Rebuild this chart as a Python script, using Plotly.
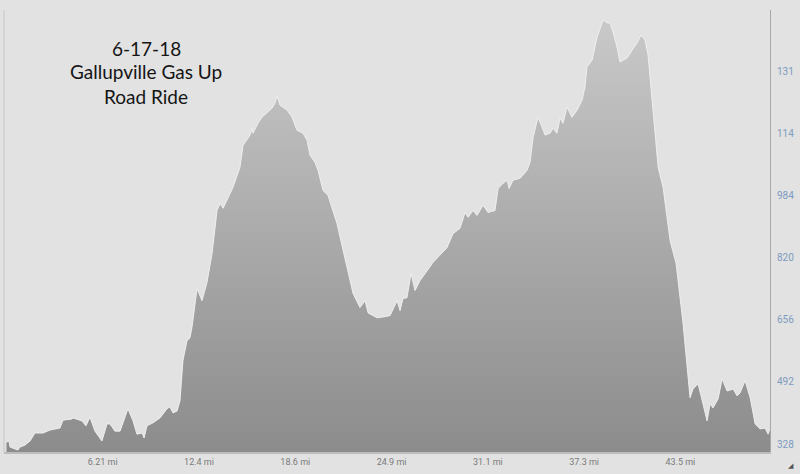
import plotly.graph_objects as go

distance_mi = [
    0.00, 0.16, 0.23, 0.48, 0.74, 0.87, 1.19, 1.52, 1.84, 2.36, 2.81, 3.45, 3.65, 4.23, 4.29,
    4.87, 5.13, 5.39, 5.71, 6.16, 6.49, 6.68, 7.00, 7.33, 7.58, 7.84, 8.17, 8.42, 8.75, 8.88,
    9.07, 9.46, 9.91, 10.36, 10.55, 10.75, 11.01, 11.20, 11.39, 11.65, 11.84, 11.97, 12.30, 12.62,
    12.94, 13.27, 13.59, 13.78, 13.98, 14.62, 15.07, 15.27, 15.72, 15.85, 15.91, 16.23, 16.49,
    16.82, 17.14, 17.33, 17.46, 17.65, 18.11, 18.43, 18.75, 19.14, 19.40, 19.59, 19.91, 20.11,
    20.43, 20.75, 21.01, 21.33, 21.85, 22.37, 22.82, 23.14,
    23.34, 23.92, 24.43, 24.76, 25.21, 25.40, 25.59, 25.85, 26.11, 26.37, 26.69, 27.53, 28.43,
    28.82, 29.27, 29.60, 29.79, 30.11, 30.37, 30.76, 31.08, 31.53, 31.73, 32.05, 32.31, 32.44,
    32.69, 33.15, 33.60, 33.79, 33.99, 34.31, 34.57, 34.76, 35.08, 35.28, 35.53, 35.73, 35.92,
    36.18, 36.50, 36.83, 37.15, 37.34, 37.47, 37.80, 38.12, 38.44, 38.51, 38.77, 38.96, 39.15,
    39.41, 39.60, 40.05, 40.38, 40.70, 40.96, 41.21, 41.41, 41.67, 42.06, 42.38, 42.83, 43.22,
    43.67, 44.12, 44.31, 44.64, 44.89, 45.22, 45.41, 45.60, 45.93, 46.19, 46.51, 46.90, 47.16,
    47.35, 47.67, 48.00, 48.32, 48.64, 48.96, 49.16, 49.28,
]
elevation_ft = [
    333, 336, 320, 317, 312, 320, 325, 336, 357, 357, 365, 370, 391, 394, 397,
    389, 376, 399, 362, 336, 381, 381, 362, 362, 391, 421, 389, 354, 357, 344,
    376, 384, 397, 421, 426, 410, 415, 442, 548, 600, 608, 635, 738, 706,
    754, 831, 944, 963, 950, 1005, 1058, 1116, 1143, 1161, 1148, 1174, 1190,
    1201, 1214, 1227, 1246, 1222, 1209, 1190, 1156, 1148, 1129, 1090, 1071, 1050,
    997, 984, 952, 910, 817, 725, 688, 706,
    674, 661, 664, 667, 706, 680, 712, 714, 778, 733, 759, 807, 846,
    883, 897, 939, 926, 944, 931, 958, 939, 944, 1002, 1016, 1024, 1002,
    1024, 1029, 1050, 1071, 1137, 1190, 1164, 1143, 1148, 1161, 1148, 1188, 1174,
    1217, 1190, 1209, 1235, 1270, 1323, 1341, 1402, 1439, 1447, 1439, 1439, 1415,
    1375, 1336, 1346, 1367, 1386, 1407, 1394, 1354, 1235, 1058, 1005, 865, 804,
    645, 450, 473, 487, 442, 389, 434, 423, 447, 500, 468, 473, 455,
    463, 495, 450, 381, 368, 370, 354, 370,
]

x_tick_vals = [6.2137, 12.4274, 18.6411, 24.8548, 31.0686, 37.2823, 43.4960]
x_tick_text = ["6.21 mi", "12.4 mi", "18.6 mi", "24.9 mi", "31.1 mi", "37.3 mi", "43.5 mi"]
y_tick_vals = [328, 492, 656, 820, 984, 1148, 1312]
y_tick_text = ["328", "492", "656", "820", "984", "114", "131"]
title_lines = ["6-17-18", "Gallupville Gas Up", "Road Ride"]

fig = go.Figure()
fig.add_trace(go.Scatter(
    x=distance_mi, y=elevation_ft,
    mode="lines",
    line=dict(color="rgba(242,242,242,0.9)", width=1),
    fill="tozeroy",
    fillgradient=dict(type="vertical", start=307, stop=1450,
                      colorscale=[[0, "#8c8c8c"], [1, "#c9c9c9"]]),
    hoverinfo="skip",
    showlegend=False,
))

# title
title_y = [0.914, 0.860, 0.804]
for txt, yy in zip(title_lines, title_y):
    fig.add_annotation(text=txt, xref="paper", yref="paper", x=0.1854, y=yy,
                       xanchor="center", yanchor="middle", showarrow=False,
                       font=dict(family="Lato", size=19, color="#151515"))

# resize grip glyph
fig.add_annotation(text="◢", xref="paper", yref="paper", x=1.027, y=-0.032,
                   xanchor="center", yanchor="middle", showarrow=False,
                   font=dict(family="DejaVu Sans", size=7, color="#555555"))

# left border
fig.add_shape(type="line", xref="paper", yref="paper", x0=0, x1=0, y0=0, y1=1,
              line=dict(color="#c6c6c6", width=1))

fig.update_layout(
    width=800, height=474,
    margin=dict(l=4, r=30, t=10, b=22),
    paper_bgcolor="#e2e2e2",
    plot_bgcolor="#e2e2e2",
    xaxis=dict(range=[-0.16, 49.28], tickvals=x_tick_vals, ticktext=x_tick_text,
               showgrid=False, zeroline=False, showline=True, linecolor="#bdbdbd",
               linewidth=2, ticks="", tickfont=dict(family="Roboto", size=9, color="#7a7a7a")),
    yaxis=dict(range=[307, 1473], side="right", tickvals=y_tick_vals, ticktext=y_tick_text,
               showgrid=False, zeroline=False, showline=True, linecolor="#a8a8a8",
               linewidth=1, ticks="", ticklabelstandoff=4,
               tickfont=dict(family="Roboto", size=10, color="#7d9bc1")),
)

fig.write_html("out.html", config={"displayModeBar": False},
               post_script="document.body.style.margin='0';document.body.style.background='#e2e2e2';")
